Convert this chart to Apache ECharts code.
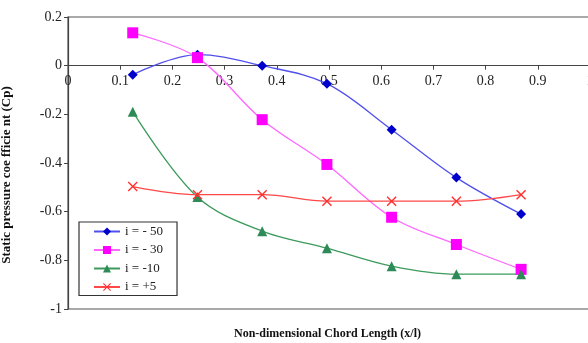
<!DOCTYPE html>
<html>
<head>
<meta charset="utf-8">
<script src="https://cdn.jsdelivr.net/npm/echarts@6/dist/echarts.min.js"></script>
<style>
  html, body { margin: 0; padding: 0; background: #fff; }
  #chart { width: 588px; height: 343px; }
</style>
</head>
<body>
<div id="chart"></div>
<script>
// Chord stations (x/l) where the pressure taps sit
const chordPos = [0.124, 0.248, 0.372, 0.496, 0.62, 0.744, 0.868];

// Static pressure coefficient at each station, one list per incidence
const cpMinus50 = [-0.037, 0.045, 0.0, -0.074, -0.263, -0.46, -0.61];
const cpMinus30 = [0.135, 0.033, -0.222, -0.406, -0.623, -0.735, -0.837];
const cpMinus10 = [-0.189, -0.54, -0.68, -0.75, -0.824, -0.857, -0.857];
const cpPlus5   = [-0.497, -0.53, -0.53, -0.557, -0.557, -0.557, -0.53];

const seriesNames = ['i = - 50', 'i = - 30', 'i = -10', 'i = +5'];

// Value-axis ranges
const cpMin = -1, cpMax = 0.2, cpStep = 0.2;
const xMin = 0, xMax = 1, xStep = 0.1;

const pair = (ys) => chordPos.map((x, i) => [x, ys[i]]);

const crossPath = 'path://M0,1L1,0L5,4L9,0L10,1L6,5L10,9L9,10L5,6L1,10L0,9L4,5Z';
const serif = '"Liberation Serif", "DejaVu Serif", serif';

// Plot box (runs a little past the right edge of the canvas)
const gridTop = 17, gridBottom = 34, chartH = 343;
const plotH = chartH - gridTop - gridBottom;
// The x axis is drawn along Cp = 0: shift it up from the bottom edge
const zeroShift = plotH * (0 - cpMin) / (cpMax - cpMin);

const chart = echarts.init(document.getElementById('chart'));

function lineSeries(name, ys, lineColor, markColor, symbol, size) {
  return {
    name: name,
    type: 'line',
    data: pair(ys),
    smooth: 0.35,
    symbol: symbol,
    symbolSize: size,
    lineStyle: { color: lineColor, width: 1.3 },
    itemStyle: { color: markColor, borderWidth: 0 },
    emphasis: { disabled: true },
    z: 3
  };
}

chart.setOption({
  animation: false,
  backgroundColor: '#ffffff',
  grid: {
    left: 68, top: gridTop, width: 522, bottom: gridBottom,
    containLabel: false,
    outerBoundsMode: 'none',
    show: true, borderColor: '#555', borderWidth: 1.2, backgroundColor: 'transparent'
  },
  xAxis: {
    type: 'value',
    min: xMin, max: xMax, interval: xStep,
    position: 'bottom',
    offset: -zeroShift,
    axisLine: { onZero: false, lineStyle: { color: '#444', width: 1.2 } },
    axisTick: { show: true, length: 4, lineStyle: { color: '#444' } },
    axisLabel: { color: '#222', fontFamily: serif, fontSize: 14, margin: 9 },
    splitLine: { show: false }
  },
  yAxis: {
    type: 'value',
    min: cpMin, max: cpMax, interval: cpStep,
    axisLine: { show: true, lineStyle: { color: '#444', width: 1.2 } },
    axisTick: { show: true, length: 4, lineStyle: { color: '#444' } },
    axisLabel: { color: '#222', fontFamily: serif, fontSize: 14, margin: 6 },
    splitLine: { show: false }
  },
  legend: {
    orient: 'vertical',
    left: 79, top: 222,
    padding: [3, 14, 2, 14],
    itemGap: 5.5,
    itemWidth: 26, itemHeight: 10,
    borderColor: '#333', borderWidth: 1.2,
    backgroundColor: '#fff',
    textStyle: { color: '#222', fontFamily: serif, fontSize: 13 },
    data: seriesNames
  },
  graphic: [{
    type: 'text',
    left: 234, top: 328,
    style: {
      text: 'Non-dimensional Chord Length (x/l)',
      fill: '#111',
      font: 'bold 12px ' + serif
    }
  }, {
    type: 'text',
    x: 7, y: 175,
    rotation: Math.PI / 2,
    style: {
      text: 'Static pressure coe fficie nt (Cp)',
      fill: '#111',
      font: 'bold 13px ' + serif,
      align: 'center',
      verticalAlign: 'middle'
    }
  }],
  series: [
    lineSeries(seriesNames[0], cpMinus50, '#5050ee', '#0000cc', 'diamond', 10),
    lineSeries(seriesNames[1], cpMinus30, '#ff66ff', '#ff00ff', 'rect', 11),
    lineSeries(seriesNames[2], cpMinus10, '#3c9a5c', '#2e8b57', 'triangle', 10),
    lineSeries(seriesNames[3], cpPlus5, '#ff4848', '#ff3030', crossPath, 10)
  ]
});
</script>
</body>
</html>
